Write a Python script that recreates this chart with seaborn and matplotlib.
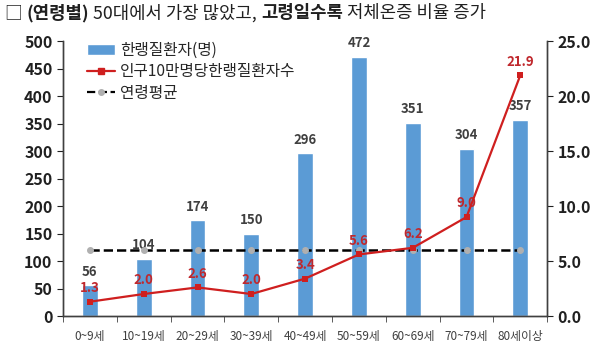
import numpy as np
import pandas as pd
import matplotlib
matplotlib.use('Agg')
import matplotlib.pyplot as plt
import seaborn as sns
from matplotlib.lines import Line2D
from matplotlib.patches import Patch

sns.set_style('white')
plt.rcParams['font.family'] = ['Noto Sans CJK KR', 'DejaVu Sans']

# 데이터
ages = ['0~9세', '10~19세', '20~29세', '30~39세', '40~49세', '50~59세', '60~69세', '70~79세', '80세이상']
patients = [56, 104, 174, 150, 296, 472, 351, 304, 357]
rate = [1.3, 2.0, 2.6, 2.0, 3.4, 5.6, 6.2, 9.0, 21.9]
avg_rate = 6.0

df = pd.DataFrame({'age': ages, 'patients': patients, 'rate': rate})

fig = plt.figure(figsize=(6, 3.51), dpi=100)
ax = fig.add_axes([0.105, 0.0997, 0.807, 0.783])

sns.barplot(data=df, x='age', y='patients', color='#5B9BD5', width=0.29,
            saturation=1, ax=ax)
ax.set_ylim(0, 500)
ax.set_xlim(-0.5, 8.5)
ax.set_yticks(range(0, 501, 50))
ax.set_xlabel('')
ax.set_ylabel('')

for i, v in enumerate(patients):
    ax.text(i, v + 12, str(v), ha='center', va='bottom', fontsize=9.5,
            fontweight='bold', color='#404040')

ax2 = ax.twinx()
xs = np.arange(len(ages))
ax2.plot(xs, [avg_rate] * len(ages), ls='--', color='black', lw=1.8,
         marker='o', markersize=4, markerfacecolor='#B0B0B0',
         markeredgecolor='#B0B0B0', zorder=3)
sns.lineplot(x=xs, y=rate, color='#CF1F1F', lw=1.6, marker='s',
             markersize=4, markeredgewidth=0, ax=ax2, zorder=4)
ax2.set_ylim(0, 25)
ax2.set_yticks(np.arange(0, 25.1, 5))
ax2.set_yticklabels([f'{t:.1f}' for t in np.arange(0, 25.1, 5)])

for i, v in enumerate(rate):
    ax2.text(i, v + 0.6, f'{v:.1f}', ha='center', va='bottom', fontsize=9.5,
             fontweight='bold', color='#C0282D')

# 축 스타일
for a in (ax, ax2):
    a.spines['top'].set_visible(False)
    for s in ('left', 'right', 'bottom'):
        a.spines[s].set_color('#404040')
        a.spines[s].set_linewidth(1)
ax.tick_params(axis='y', length=4, labelsize=11.5, colors='#202020', direction='out', left=True)
ax2.tick_params(axis='y', length=4, labelsize=11.5, colors='#202020', direction='out', right=True)
for lbl in ax.get_yticklabels() + ax2.get_yticklabels():
    lbl.set_fontweight('bold')
ax.set_xticks(xs)
ax.set_xticks(np.arange(-0.5, 8.6, 1), minor=True)
ax.tick_params(axis='x', which='major', length=0, labelsize=8.5, colors='#404040', pad=10)
ax.tick_params(axis='x', which='minor', length=4, color='#404040', bottom=True)

handles = [
    Patch(facecolor='#5B9BD5', label='한랭질환자(명)'),
    Line2D([0], [0], color='#CF1F1F', marker='s', markersize=4, lw=1.6, label='인구10만명당한랭질환자수'),
    Line2D([0], [0], color='black', ls='--', marker='o', markersize=4, markerfacecolor='#B0B0B0',
           markeredgecolor='#B0B0B0', lw=1.6, label='연령평균'),
]
ax2.legend(handles=handles, loc='upper left', bbox_to_anchor=(0.02, 1.05), frameon=False,
           fontsize=11.3, handlelength=1.8, handletextpad=0.3, labelspacing=0.3)

# 제목 (부분 굵게)
parts = [('□ ', 'normal'), ('(연령별)', 'bold'), (' 50대에서 가장 많았고, ', 'normal'),
         ('고령일수록', 'bold'), (' 저체온증 비율 증가', 'normal')]
fig.canvas.draw()
renderer = fig.canvas.get_renderer()
x = 5
for txt, w in parts:
    t = fig.text(x / 600, 1 - 13 / 351, txt, fontsize=12.8, fontweight=w,
                 color='#202020', va='center', ha='left')
    bb = t.get_window_extent(renderer=renderer)
    x += bb.width

fig.savefig('out.png', dpi=100)
